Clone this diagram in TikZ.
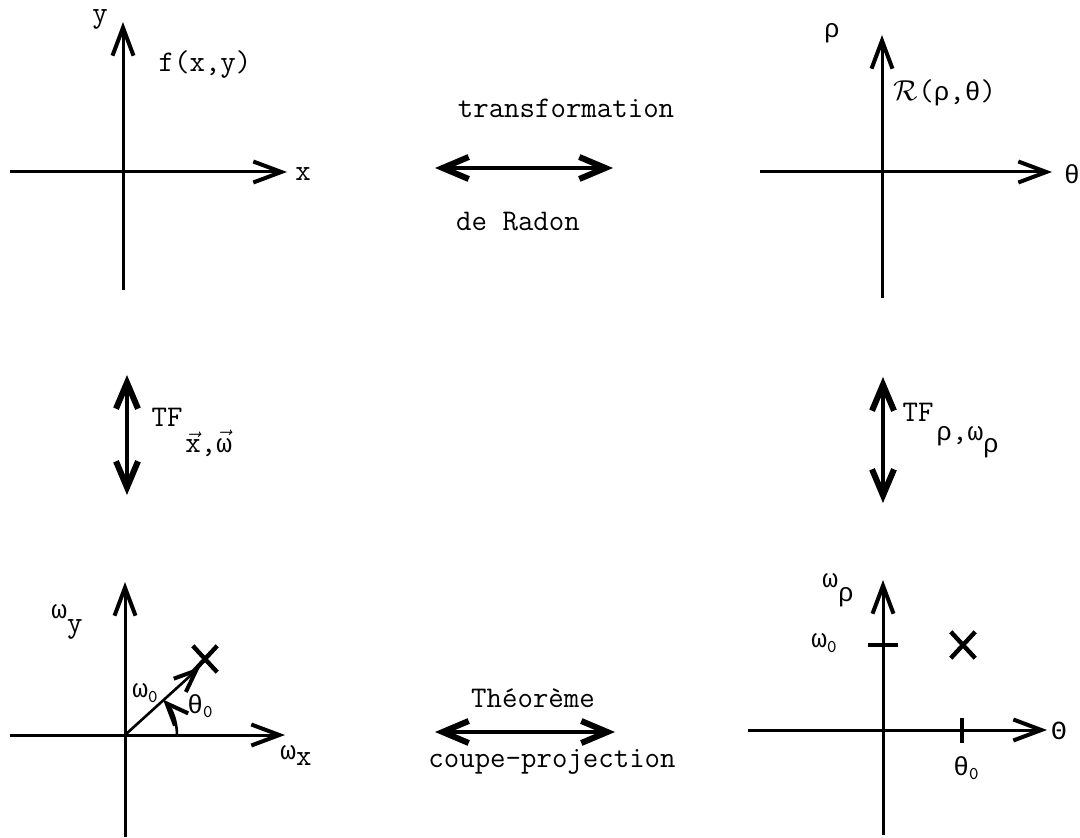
\documentclass[tikz,border=0pt]{standalone}
\usepackage{amsmath}
\usepackage{fontspec}
\newfontfamily\grk{Liberation Mono}[Scale=0.87]
\usetikzlibrary{arrows.meta,shapes.misc}
\newcommand{\grtxt}[1]{{\grk #1}}
\newcommand{\lowsub}[1]{\raisebox{-0.35ex}{\fontsize{9}{10}\selectfont #1}}
\tikzset{
  axis/.style={line width=1.5pt, -{Straight Barb[length=14pt,width=10.5pt,line width=2pt]}},
  diag/.style={line width=1.3pt, -{Straight Barb[length=11pt,width=9pt,line width=2pt]}},
  dblarrow/.style={line width=2.2pt,
    {Straight Barb[length=13pt,width=11pt,line width=3pt]}-{Straight Barb[length=13pt,width=11pt,line width=3pt]}},
  lbl/.style={inner sep=1pt, font=\ttfamily\fontsize{15}{17}\selectfont},
  tick/.style={line width=2pt},
  xmark/.style={cross out, draw, line width=2.2pt, minimum width=10pt, minimum height=11pt, inner sep=0pt}
}

\begin{document}
\begin{tikzpicture}[x=0.5pt, y=-0.5pt]
\useasboundingbox (0,0) rectangle (1080,838);
% f(x,y)
\coordinate (fL) at (10,172);
\coordinate (fR) at (287,172);
\coordinate (fB) at (123,290);
\coordinate (fT) at (123,22);
\draw[axis] (fL) -- (fR);
\draw[axis] (fB) -- (fT);
\node[lbl] (fy) at (100,19) {y};
\node[lbl] (fx) at (303,174) {x};
\node[lbl] (ffun) at (205,65) {f(x,y)};
% R(rho,theta)
\coordinate (rL) at (760,172);
\coordinate (rR) at (1052,172);
\coordinate (rB) at (882,298);
\coordinate (rT) at (882,35);
\draw[axis] (rL) -- (rR);
\draw[axis] (rB) -- (rT);
\node[lbl] (rrho) at (832,33) {\grtxt{ρ}};
\node[lbl] (rth) at (1072,174) {\grtxt{θ}};
\node[lbl] (rfun) at (945,93) {$\mathcal{R}$(\grtxt{ρ},\grtxt{θ})};
% transformation de Radon
\coordinate (radL) at (435,168);
\coordinate (radR) at (613,168);
\draw[dblarrow] (radL) -- (radR);
\node[lbl] (trans) at (566,108) {transformation};
\node[lbl] (radon) at (518,222) {de Radon};
% TF gauche
\coordinate (tfgT) at (127,375);
\coordinate (tfgB) at (127,495);
\draw[dblarrow] (tfgT) -- (tfgB);
\node[lbl] (tfg) at (167,417) {TF};
\node[lbl, anchor=north west] (tfgs) at (183,428) {$\vec{\text{x}}$,$\vec{\text{\grtxt{ω}}}$};
% TF droite
\coordinate (tfdT) at (883,377);
\coordinate (tfdB) at (883,503);
\draw[dblarrow] (tfdT) -- (tfdB);
\node[lbl] (tfd) at (918,412) {TF};
\node[lbl, anchor=north west] (tfds) at (934,424) {\grtxt{ρ},\grtxt{ω}\raisebox{-6pt}{\grtxt{ρ}}};
% plan de Fourier
\coordinate (wL) at (10,735);
\coordinate (wR) at (285,735);
\coordinate (wB) at (125,837);
\coordinate (wT) at (125,582);
\coordinate (wO) at (125,735);
\coordinate (wV) at (200,667);
\draw[axis] (wL) -- (wR);
\draw[axis] (wB) -- (wT);
\draw[diag] (wO) -- (wV);
\node[xmark] (wX) at (205,659) {};
\draw[diag] (177,735) arc[start angle=0, end angle=-43, radius=52];
\node[lbl] (wy) at (67,622) {\grtxt{ω}\raisebox{-7pt}{y}};
\node[lbl] (wx) at (296,755) {\grtxt{ω}\raisebox{-3pt}{x}};
\node[lbl] (w0) at (145,693) {\grtxt{ω}\lowsub{0}};
\node[lbl] (t0) at (200,706) {\grtxt{θ}\lowsub{0}};
% plan (theta, omega_rho)
\coordinate (pL) at (748,730);
\coordinate (pR) at (1047,730);
\coordinate (pB) at (883,835);
\coordinate (pT) at (883,580);
\draw[axis] (pL) -- (pR);
\draw[axis] (pB) -- (pT);
\coordinate (pwL) at (868,645);
\coordinate (pwR) at (898,645);
\coordinate (ptT) at (962,718);
\coordinate (ptB) at (962,743);
\draw[tick] (pwL) -- (pwR);
\draw[tick] (ptT) -- (ptB);
\node[xmark] (pX) at (963,645) {};
\node[lbl] (pwr) at (838,590) {\grtxt{ω}\raisebox{-7pt}{\grtxt{ρ}}};
\node[lbl] (pth) at (1059,731) {\grtxt{Θ}};
\node[lbl] (pw0) at (824,643) {\grtxt{ω}\lowsub{0}};
\node[lbl] (pt0) at (966,768) {\grtxt{θ}\lowsub{0}};
% theoreme coupe-projection
\coordinate (tcL) at (435,732);
\coordinate (tcR) at (615,732);
\draw[dblarrow] (tcL) -- (tcR);
\node[lbl] (theo) at (533,698) {Théorème};
\node[lbl] (coupe) at (552,762) {coupe-projection};
\end{tikzpicture}
\end{document}
